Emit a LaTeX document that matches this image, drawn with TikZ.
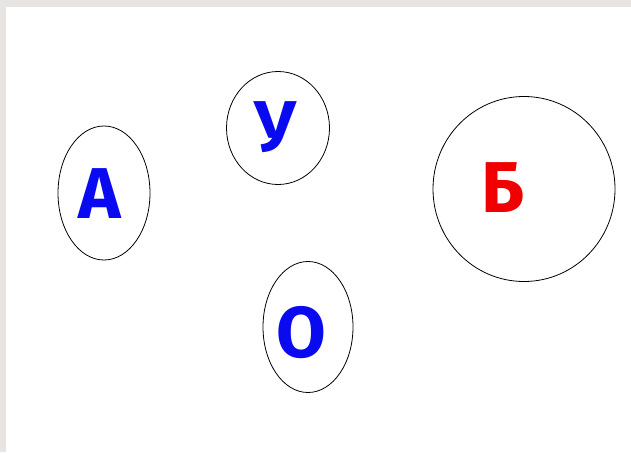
\documentclass[tikz,border=0pt]{standalone}
\usepackage{fontspec}
\setmainfont{Fira Sans}
\usetikzlibrary{shapes.geometric}
\definecolor{framegray}{RGB}{232,228,225}
\definecolor{letterblue}{RGB}{10,10,240}
\definecolor{letterred}{RGB}{240,0,0}

\begin{document}
\begin{tikzpicture}[x=1pt, y=-1pt,
    ring/.style={ellipse, draw, line width=0.8pt, inner sep=0pt},
    letter/.style={inner sep=0pt, font=\fontsize{72}{72}\selectfont\bfseries}]
    % Rahmen
    \fill[framegray] (0,0) rectangle (631,452);
    \fill[white] (6,7) rectangle (631,452);
    \useasboundingbox (0,0) rectangle (631,452);

    % Ringe
    \node[ring, minimum width=92pt, minimum height=134pt] (ringA) at (104,193) {};
    \node[ring, minimum width=103pt, minimum height=113pt] (ringU) at (278,128) {};
    \node[ring, minimum width=90pt, minimum height=131pt] (ringO) at (308,327) {};
    \node[ring, minimum width=182pt, minimum height=185pt] (ringB) at (524,189) {};

    % Buchstaben
    \node[letter, text=letterblue] (A) at (100,194) {А};
    \node[letter, text=letterblue] (U) at (275,127) {У};
    \node[letter, text=letterblue] (O) at (301,333) {О};
    \node[letter, text=letterred] (B) at (503,188) {Б};
\end{tikzpicture}
\end{document}
